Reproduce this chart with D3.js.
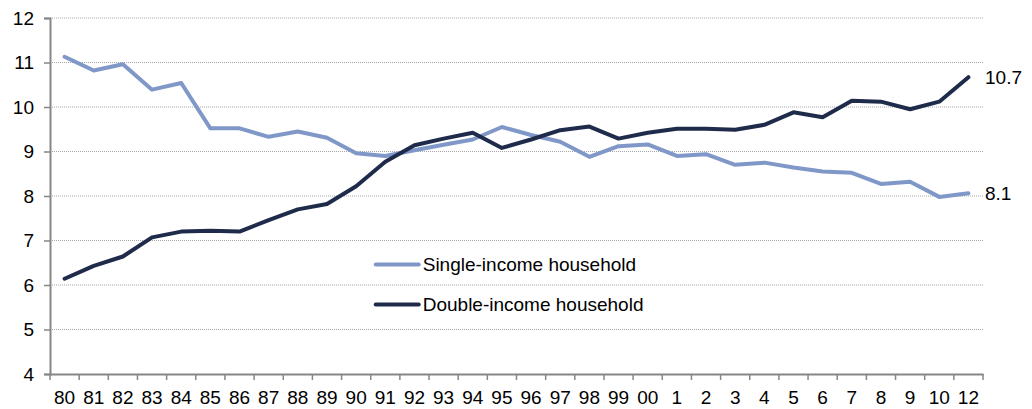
<!DOCTYPE html>
<html>
<head>
<meta charset="utf-8">
<script src="https://cdn.jsdelivr.net/npm/d3@7/dist/d3.min.js"></script>
<style>
  body { margin: 0; background: #fff; }
  text { font-family: "Liberation Sans", Arial, sans-serif; fill: #000; }
</style>
</head>
<body>
<div id="chart"></div>
<script>
// year labels as printed on the axis (no "11" in the source)
const years = ["80","81","82","83","84","85","86","87","88","89","90","91","92","93","94","95","96","97","98","99","00","1","2","3","4","5","6","7","8","9","10","12"];

const singleIncome = [11.13,10.82,10.96,10.39,10.54,9.52,9.52,9.33,9.45,9.31,8.96,8.90,9.03,9.15,9.27,9.55,9.37,9.22,8.88,9.12,9.16,8.90,8.94,8.70,8.75,8.64,8.55,8.52,8.27,8.32,7.98,8.06];
const doubleIncome = [6.14,6.43,6.64,7.07,7.20,7.22,7.20,7.46,7.70,7.82,8.22,8.77,9.14,9.29,9.42,9.08,9.27,9.48,9.56,9.29,9.42,9.51,9.51,9.49,9.60,9.88,9.77,10.14,10.12,9.95,10.12,10.67];

const yTicks = [4,5,6,7,8,9,10,11,12];
const seriesNames = ["Single-income household","Double-income household"];
const endLabels = ["8.1","10.7"];
const colors = ["#8098c8","#1f2b4b"];

const W = 1032, H = 409;
const margin = {top: 18, right: 49, bottom: 35, left: 50};
const width = W - margin.left - margin.right,
      height = H - margin.top - margin.bottom;

const svg = d3.select("#chart")
  .append("svg")
    .attr("width", W)
    .attr("height", H)
  .append("g")
    .attr("transform", `translate(${margin.left},${margin.top})`);

const x = d3.scaleBand()
  .domain(years)
  .range([0, width]);

const y = d3.scaleLinear()
  .domain([4, 12])
  .range([height, 0]);

// dotted gridlines
svg.append("g")
  .selectAll("line")
  .data(yTicks.filter(d => d > 4))
  .enter()
  .append("line")
    .attr("x1", 0)
    .attr("x2", width)
    .attr("y1", d => y(d))
    .attr("y2", d => y(d))
    .attr("stroke", "#a6a6a6")
    .attr("stroke-width", 1)
    .attr("stroke-dasharray", "1,1");

// Y axis
const yAxis = svg.append("g")
  .call(d3.axisLeft(y).tickValues(yTicks).tickSize(6).tickPadding(10).tickFormat(d3.format("d")));
yAxis.select(".domain").attr("stroke", "#868686").attr("stroke-width", 2);
yAxis.selectAll(".tick line").attr("stroke", "#868686").attr("stroke-width", 1.5);
yAxis.selectAll("text").style("font-size", "19px").attr("fill", "#000");

// X axis, ticks sit on band edges
const xAxis = svg.append("g")
  .attr("transform", `translate(0,${height})`)
  .call(d3.axisBottom(x).tickSize(0).tickSizeOuter(0).tickPadding(17));
xAxis.select(".domain").attr("stroke", "#868686").attr("stroke-width", 2);
xAxis.selectAll("text").style("font-size", "19px").attr("fill", "#000");
xAxis.selectAll(".edge")
  .data(years.map((d, i) => i).concat([years.length]))
  .enter()
  .append("line")
    .attr("class", "edge")
    .attr("x1", i => i * x.step())
    .attr("x2", i => i * x.step())
    .attr("y1", 0)
    .attr("y2", 6)
    .attr("stroke", "#868686")
    .attr("stroke-width", 1.5);

// lines
const line = d3.line()
  .x((d, i) => x(years[i]) + x.bandwidth() / 2)
  .y(d => y(d));

[singleIncome, doubleIncome].forEach((s, k) => {
  svg.append("path")
    .datum(s)
    .attr("fill", "none")
    .attr("stroke", colors[k])
    .attr("stroke-width", 4)
    .attr("stroke-linejoin", "round")
    .attr("stroke-linecap", "round")
    .attr("d", line);

  // end value label
  svg.append("text")
    .attr("x", width + 2)
    .attr("y", y(s[s.length - 1]))
    .attr("dy", "0.35em")
    .style("font-size", "19px")
    .text(endLabels[k]);
});

// legend
const legend = svg.append("g")
  .attr("transform", `translate(${x("91") + 5},${y(6.46)})`);
seriesNames.forEach((name, k) => {
  const g = legend.append("g").attr("transform", `translate(0,${k * 40})`);
  g.append("line")
    .attr("x1", 0).attr("x2", 43)
    .attr("stroke", colors[k])
    .attr("stroke-width", 4)
    .attr("stroke-linecap", "round");
  g.append("text")
    .attr("x", 47)
    .attr("dy", "0.35em")
    .style("font-size", "19px")
    .text(name);
});
</script>
</body>
</html>
